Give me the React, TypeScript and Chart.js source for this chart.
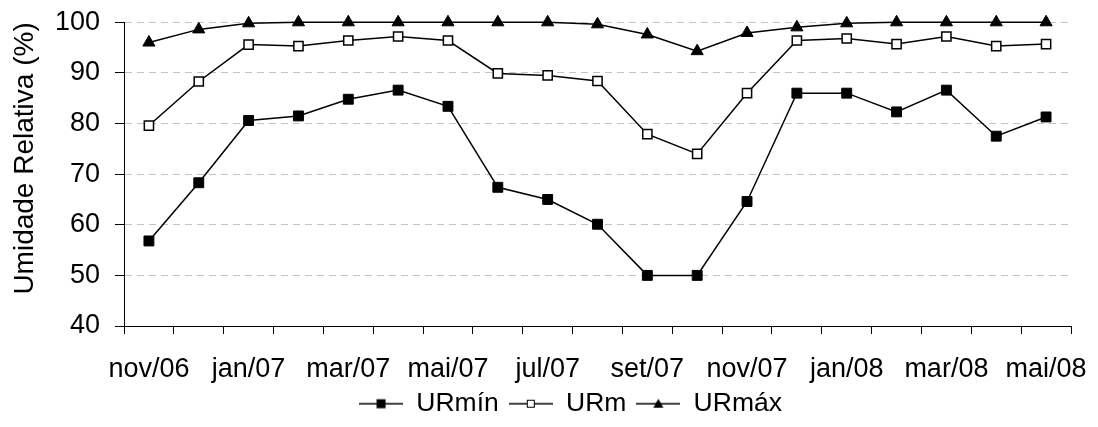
import React, { useEffect, useRef } from "react";
import { Chart, registerables } from "chart.js";

Chart.register(...registerables);

const months = [
  "nov/06", "dez/06", "jan/07", "fev/07", "mar/07", "abr/07", "mai/07", "jun/07",
  "jul/07", "ago/07", "set/07", "out/07", "nov/07", "dez/07", "jan/08", "fev/08",
  "mar/08", "abr/08", "mai/08",
];

const urMin = [56.8, 68.3, 80.6, 81.5, 84.8, 86.6, 83.4, 67.4, 65.0, 60.1, 50.0, 50.0, 64.6, 86.0, 86.0, 82.3, 86.6, 77.5, 81.3];
const urMed = [79.6, 88.3, 95.6, 95.3, 96.4, 97.2, 96.4, 89.9, 89.5, 88.4, 77.9, 74.0, 86.0, 96.4, 96.8, 95.7, 97.2, 95.3, 95.7];
const urMax = [96.0, 98.6, 99.8, 100, 100, 100, 100, 100, 100, 99.6, 97.6, 94.3, 97.9, 99.0, 99.8, 100, 100, 100, 100];

const seriesNames = ["URmín", "URm", "URmáx"];
const yTitle = "Umidade Relativa (%)";

const FONT = "'Liberation Sans', Arial, sans-serif";

function makeIcon(kind: string): HTMLCanvasElement {
  const c = document.createElement("canvas");
  c.width = 44;
  c.height = 18;
  const ctx = c.getContext("2d")!;
  ctx.strokeStyle = "#000";
  ctx.lineWidth = 1.5;
  ctx.beginPath();
  ctx.moveTo(0, 9);
  ctx.lineTo(44, 9);
  ctx.stroke();
  const cx = 22, cy = 9;
  if (kind === "fill") {
    ctx.fillStyle = "#000";
    ctx.fillRect(cx - 4.5, cy - 4.5, 9, 9);
  } else if (kind === "open") {
    ctx.fillStyle = "#fff";
    ctx.fillRect(cx - 3.5, cy - 3.5, 7, 7);
    ctx.lineWidth = 1;
    ctx.strokeRect(cx - 3.5, cy - 3.5, 7, 7);
  } else {
    ctx.fillStyle = "#000";
    ctx.beginPath();
    ctx.moveTo(cx, cy - 5);
    ctx.lineTo(cx + 5, cy + 4);
    ctx.lineTo(cx - 5, cy + 4);
    ctx.closePath();
    ctx.fill();
  }
  return c;
}

export default function App() {
  const ref = useRef<HTMLCanvasElement | null>(null);

  useEffect(() => {
    if (!ref.current) return;
    const icons = [makeIcon("fill"), makeIcon("open"), makeIcon("tri")];
    const legendShift = {
      id: "legendShift",
      afterLayout(chart: any) {
        const l = chart.legend;
        if (l) {
          l.left += 35;
          l.right += 35;
        }
      },
    };
    const chart = new Chart(ref.current, {
      type: "line",
      data: {
        labels: months,
        datasets: [
          {
            label: seriesNames[0],
            data: urMin,
            borderColor: "#000",
            borderWidth: 1.5,
            pointStyle: "rect",
            pointRadius: 7,
            pointBackgroundColor: "#000",
            pointBorderColor: "#000",
            pointBorderWidth: 1,
            clip: false,
          },
          {
            label: seriesNames[1],
            data: urMed,
            borderColor: "#000",
            borderWidth: 1.5,
            pointStyle: "rect",
            pointRadius: 6.5,
            pointBackgroundColor: "#fff",
            pointBorderColor: "#000",
            pointBorderWidth: 1.5,
            clip: false,
          },
          {
            label: seriesNames[2],
            data: urMax,
            borderColor: "#000",
            borderWidth: 1.5,
            pointStyle: "triangle",
            pointRadius: 7,
            pointBackgroundColor: "#000",
            pointBorderColor: "#000",
            pointBorderWidth: 1,
            clip: false,
          },
        ] as any,
      },
      options: {
        animation: false,
        responsive: true,
        maintainAspectRatio: false,
        layout: { padding: { left: 0, right: 27, top: 22.3, bottom: 0 } },
        font: { family: FONT },
        plugins: {
          tooltip: { enabled: false },
          legend: {
            position: "bottom",
            labels: {
              color: "#000",
              font: { family: FONT, size: 26.5 },
              usePointStyle: true,
              pointStyleWidth: 44,
              padding: 10,
              generateLabels: (c: any) =>
                (Chart.defaults.plugins.legend.labels.generateLabels as any)(c).map((it: any, i: number) => ({
                  ...it,
                  pointStyle: icons[i],
                })),
            },
          },
        },
        scales: {
          x: {
            type: "category",
            offset: true,
            grid: {
              offset: true,
              drawOnChartArea: false,
              drawTicks: true,
              tickLength: 8,
              tickColor: "#000",
              tickWidth: 1,
            },
            border: { display: true, color: "#000", width: 1 },
            ticks: {
              autoSkip: false,
              maxRotation: 0,
              minRotation: 0,
              padding: 19,
              color: "#000",
              font: { family: FONT, size: 27 },
              callback: function (this: any, val: any, idx: number) {
                return idx % 2 === 0 ? months[idx] : "";
              },
            },
            afterFit: (s: any) => {
              s.height = 54.5;
              s.paddingLeft = 0;
              s.paddingRight = 0;
              s._computeLabelArea = () => undefined;
            },
          },
          y: {
            min: 40,
            max: 100,
            ticks: {
              stepSize: 10,
              padding: 15,
              color: "#000",
              font: { family: FONT, size: 27 },
            },
            grid: {
              color: "#c4c4c4",
              lineWidth: 1,
              tickLength: 9,
              tickColor: "#000",
              tickWidth: 1,
              tickBorderDash: [],
            },
            border: { display: true, color: "#000", width: 1, dash: [7, 5] },
            title: {
              display: true,
              text: yTitle,
              color: "#000",
              align: "end",
              font: { family: FONT, size: 28 },
              padding: { top: 8, bottom: 0 },
            },
            afterFit: (s: any) => {
              s.width = 124;
              s.paddingTop = 0;
              s.paddingBottom = 0;
            },
          },
        },
      } as any,
      plugins: [legendShift],
    });
    return () => chart.destroy();
  }, []);

  return (
    <div style={{ position: "fixed", left: 0, top: 0, width: 1098, height: 427, background: "#fff" }}>
      <canvas ref={ref} />
    </div>
  );
}
